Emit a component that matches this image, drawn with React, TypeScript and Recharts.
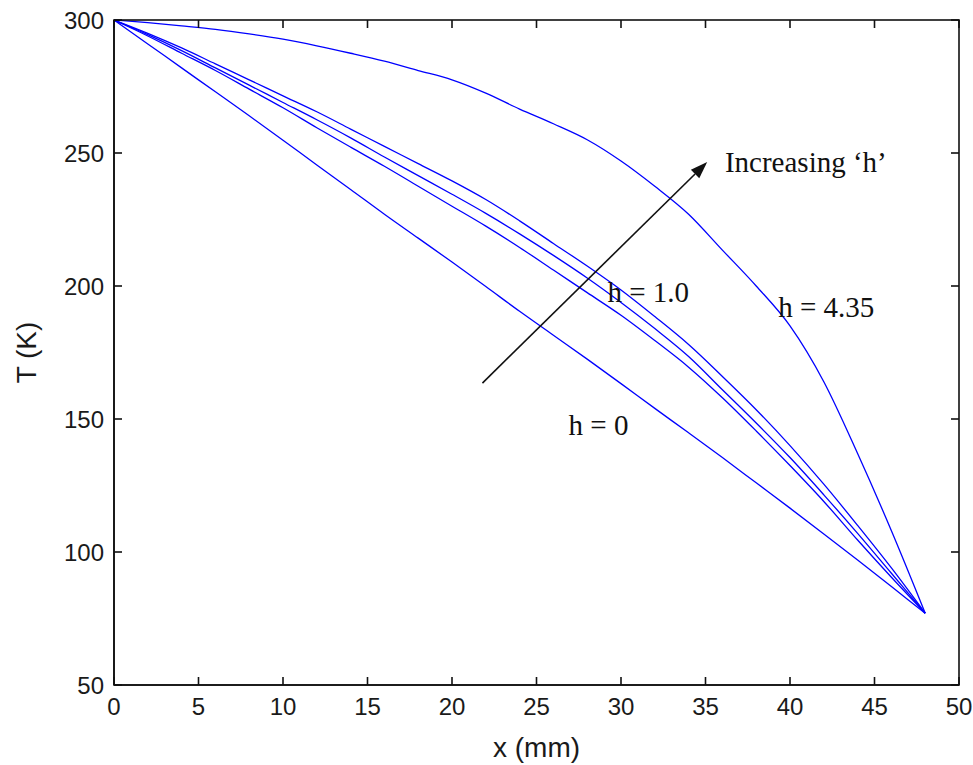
import { Label, Line, LineChart, ReferenceDot, ReferenceLine, XAxis, YAxis } from "recharts";

// x positions along the rod (mm)
const xPositions = [
	0, 2, 4, 6, 8, 10, 12, 14, 16, 18, 20, 22, 24, 26, 28, 30, 32, 34, 36, 38, 40,
	42, 44, 46, 48,
];

// temperature (K) for each curve
const hZero = [
	300, 291, 282, 273, 264, 254.8, 245.5, 236.3, 227, 218, 209, 199.8, 190.5,
	181.5, 172.5, 163.3, 154, 144.8, 135.5, 126, 116.5, 106.8, 97, 87, 77,
];
const hBandLow = [
	300, 294, 287.5, 281, 274, 267, 259.5, 252.2, 245, 237.5, 230, 222.5, 214.5,
	206, 197.5, 189, 179.5, 169.5, 158, 145.5, 132.5, 119, 104.5, 90.5, 77,
];
const hBandMid = [
	300, 294.5, 288.5, 282, 275.5, 269, 262.5, 255.7, 248.5, 241.5, 234.5, 227.3,
	219.6, 211.5, 203, 193.8, 184, 173.5, 161, 148.5, 135.5, 121.5, 107, 92, 77,
];
const hBandHigh = [
	300, 295, 289.5, 283.5, 277.5, 271.5, 265.5, 259, 252.5, 246, 239.5, 232.5,
	224.5, 216, 207.5, 198.5, 188.5, 178, 166, 153.5, 140, 125.5, 110, 94, 77,
];
const hHigh = [
	300, 299, 297.8, 296.5, 294.8, 292.8, 290.3, 287.5, 284.5, 281, 277.5, 272.5,
	266.5, 261, 255, 247, 237.5, 227, 213.5, 200, 185, 164, 137, 108, 77,
];

const xTicks = [0, 5, 10, 15, 20, 25, 30, 35, 40, 45, 50];
const yTicks = [50, 100, 150, 200, 250, 300];
const xDomain = [0, 50];
const yDomain = [50, 300];

const data = xPositions.map((x, i) => ({
	x,
	hZero: hZero[i],
	hBandLow: hBandLow[i],
	hBandMid: hBandMid[i],
	hBandHigh: hBandHigh[i],
	hHigh: hHigh[i],
}));

const seriesKeys = ["hZero", "hBandLow", "hBandMid", "hBandHigh", "hHigh"];

const notes = [
	{ x: 39.3, y: 188.3, text: "h = 4.35" },
	{ x: 29.2, y: 194, text: "h = 1.0" },
	{ x: 26.9, y: 144, text: "h = 0" },
	{ x: 36.15, y: 242.9, text: "Increasing \u2018h\u2019" },
];

const W = 973;
const H = 765;
const margin = { top: 20, right: 14, bottom: 50, left: 54 };
const Y_AXIS_W = 60;
const X_AXIS_H = 30;

// plot box, derived from the chart layout above
const plot = {
	left: margin.left + Y_AXIS_W,
	right: W - margin.right,
	top: margin.top,
	bottom: H - margin.bottom - X_AXIS_H,
};

const sans = "'Liberation Sans', Arial, sans-serif";
const serif = "'Liberation Serif', 'Times New Roman', serif";
const axisColor = "#111";
const tickStyle = { fill: "#1a1a1a", fontSize: 24, fontFamily: sans };
const TICK = 8;

function ArrowShape(props: any) {
	const { x1, y1, x2, y2 } = props;
	const dx = x2 - x1;
	const dy = y2 - y1;
	const len = Math.sqrt(dx * dx + dy * dy) || 1;
	const ux = dx / len;
	const uy = dy / len;
	const headLen = 17;
	const half = 6;
	const bx = x2 - ux * headLen;
	const by = y2 - uy * headLen;
	return (
		<g>
			<line x1={x1} y1={y1} x2={bx} y2={by} stroke="#111" strokeWidth={1.6} />
			<polygon
				points={`${x2},${y2} ${bx - uy * half},${by + ux * half} ${bx + uy * half},${by - ux * half}`}
				fill="#111"
			/>
		</g>
	);
}

// box with inward ticks on all four sides, laid over the chart
function Frame() {
	const px = (v: number) =>
		plot.left + ((v - xDomain[0]) / (xDomain[1] - xDomain[0])) * (plot.right - plot.left);
	const py = (v: number) =>
		plot.bottom - ((v - yDomain[0]) / (yDomain[1] - yDomain[0])) * (plot.bottom - plot.top);
	return (
		<svg
			width={W}
			height={H}
			style={{ position: "absolute", left: 0, top: 0, pointerEvents: "none" }}
		>
			<g stroke={axisColor} strokeWidth={1.6} fill="none">
				<rect
					x={plot.left}
					y={plot.top}
					width={plot.right - plot.left}
					height={plot.bottom - plot.top}
				/>
				{xTicks.map((t) => (
					<g key={`x${t}`}>
						<line x1={px(t)} y1={plot.bottom} x2={px(t)} y2={plot.bottom - TICK} />
						<line x1={px(t)} y1={plot.top} x2={px(t)} y2={plot.top + TICK} />
					</g>
				))}
				{yTicks.map((t) => (
					<g key={`y${t}`}>
						<line x1={plot.left} y1={py(t)} x2={plot.left + TICK} y2={py(t)} />
						<line x1={plot.right} y1={py(t)} x2={plot.right - TICK} y2={py(t)} />
					</g>
				))}
			</g>
		</svg>
	);
}

export default function App() {
	return (
		<div
			style={{
				position: "absolute",
				left: 0,
				top: 0,
				width: W,
				height: H,
				background: "#fff",
			}}
		>
			<LineChart width={W} height={H} data={data} margin={margin}>
				<XAxis
					dataKey="x"
					type="number"
					domain={xDomain}
					ticks={xTicks}
					height={X_AXIS_H}
					tickSize={-8}
					tickMargin={21}
					tick={tickStyle}
					tickLine={false}
					axisLine={{ stroke: axisColor, strokeWidth: 1.6 }}
				>
					<Label
						content={({ viewBox }: any) => (
							<text
								x={viewBox.x + viewBox.width / 2}
								y={viewBox.y + 72}
								textAnchor="middle"
								fontSize={28}
								fontFamily={sans}
								fill="#1a1a1a"
							>
								x (mm)
							</text>
						)}
					/>
				</XAxis>
				<YAxis
					type="number"
					domain={yDomain}
					ticks={yTicks}
					width={Y_AXIS_W}
					tickSize={-8}
					tickMargin={18}
					tick={tickStyle}
					tickLine={false}
					axisLine={{ stroke: axisColor, strokeWidth: 1.6 }}
				>
					<Label
						content={({ viewBox }: any) => (
							<text
								transform={`translate(${viewBox.x - 18},${viewBox.y + viewBox.height / 2}) rotate(-90)`}
								textAnchor="middle"
								fontSize={28}
								fontFamily={sans}
								fill="#1a1a1a"
							>
								T (K)
							</text>
						)}
					/>
				</YAxis>
				{seriesKeys.map((key) => (
					<Line
						key={key}
						type="monotone"
						dataKey={key}
						stroke="#0000ff"
						strokeWidth={1.3}
						dot={false}
						activeDot={false}
						isAnimationActive={false}
					/>
				))}
				<ReferenceLine
					segment={[
						{ x: 21.8, y: 163.5 },
						{ x: 35.1, y: 246.6 },
					]}
					shape={ArrowShape}
				/>
				{notes.map((n) => (
					<ReferenceDot
						key={n.text}
						x={n.x}
						y={n.y}
						r={0}
						shape={(p: any) => (
							<text
								x={p.cx}
								y={p.cy}
								fontSize={29}
								fontFamily={serif}
								fill="#111"
							>
								{n.text}
							</text>
						)}
					/>
				))}
			</LineChart>
			<Frame />
		</div>
	);
}
